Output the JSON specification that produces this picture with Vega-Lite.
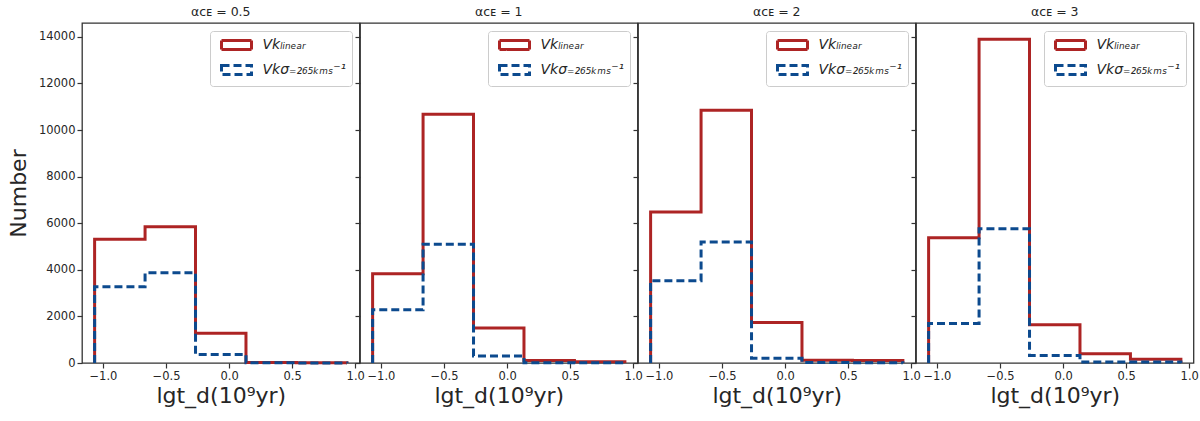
{
  "$schema": "https://vega.github.io/schema/vega-lite/v6.json",
  "padding": {"left": 6, "top": 4, "right": 6, "bottom": 2},
  "bounds": "flush",
  "spacing": 0,
  "config": {
    "font": "DejaVu Sans",
    "view": {"stroke": "#333333", "strokeWidth": 1.3},
    "axis": {"grid": false, "domain": false, "tickColor": "#333333", "tickSize": 5, "tickWidth": 1.2, "labelFontSize": 11.5, "labelColor": "#262626", "titleColor": "#262626", "titleFontWeight": "normal", "labelFlush": false, "labelOverlap": false, "labelBound": false},
    "title": {"fontSize": 12.5, "fontWeight": "normal", "color": "#262626", "offset": 5},
    "legend": {"orient": "top-right", "offset": 8, "padding": 5, "strokeColor": "#cccccc", "fillColor": "white", "cornerRadius": 3, "symbolType": "M-2,-0.6H2V0.6H-2Z", "symbolSize": 225, "symbolStrokeWidth": 3, "symbolFillColor": "transparent", "labelFontSize": 14, "labelFontStyle": "italic", "labelColor": "#262626", "rowPadding": 3, "symbolOffset": 12.5, "labelOffset": 17}
  },
  "datasets": {
    "hist": [
      {"panel": 0.5, "series": "Vkₗᵢₙₑₐᵣ", "i": 0, "x": -1.066, "y": 0},
      {"panel": 0.5, "series": "Vkₗᵢₙₑₐᵣ", "i": 1, "x": -1.066, "y": 5310},
      {"panel": 0.5, "series": "Vkₗᵢₙₑₐᵣ", "i": 2, "x": -0.666, "y": 5850},
      {"panel": 0.5, "series": "Vkₗᵢₙₑₐᵣ", "i": 3, "x": -0.266, "y": 1280},
      {"panel": 0.5, "series": "Vkₗᵢₙₑₐᵣ", "i": 4, "x": 0.134, "y": 20},
      {"panel": 0.5, "series": "Vkₗᵢₙₑₐᵣ", "i": 5, "x": 0.534, "y": 10},
      {"panel": 0.5, "series": "Vkₗᵢₙₑₐᵣ", "i": 6, "x": 0.934, "y": 0},
      {"panel": 0.5, "series": "Vkσ₌₂₆₅ₖₘₛ⁻¹", "i": 0, "x": -1.066, "y": 0},
      {"panel": 0.5, "series": "Vkσ₌₂₆₅ₖₘₛ⁻¹", "i": 1, "x": -1.066, "y": 3270},
      {"panel": 0.5, "series": "Vkσ₌₂₆₅ₖₘₛ⁻¹", "i": 2, "x": -0.666, "y": 3870},
      {"panel": 0.5, "series": "Vkσ₌₂₆₅ₖₘₛ⁻¹", "i": 3, "x": -0.266, "y": 360},
      {"panel": 0.5, "series": "Vkσ₌₂₆₅ₖₘₛ⁻¹", "i": 4, "x": 0.134, "y": 8},
      {"panel": 0.5, "series": "Vkσ₌₂₆₅ₖₘₛ⁻¹", "i": 5, "x": 0.534, "y": 4},
      {"panel": 0.5, "series": "Vkσ₌₂₆₅ₖₘₛ⁻¹", "i": 6, "x": 0.934, "y": 0},
      {"panel": 1, "series": "Vkₗᵢₙₑₐᵣ", "i": 0, "x": -1.066, "y": 0},
      {"panel": 1, "series": "Vkₗᵢₙₑₐᵣ", "i": 1, "x": -1.066, "y": 3830},
      {"panel": 1, "series": "Vkₗᵢₙₑₐᵣ", "i": 2, "x": -0.666, "y": 10680},
      {"panel": 1, "series": "Vkₗᵢₙₑₐᵣ", "i": 3, "x": -0.266, "y": 1500},
      {"panel": 1, "series": "Vkₗᵢₙₑₐᵣ", "i": 4, "x": 0.134, "y": 110},
      {"panel": 1, "series": "Vkₗᵢₙₑₐᵣ", "i": 5, "x": 0.534, "y": 50},
      {"panel": 1, "series": "Vkₗᵢₙₑₐᵣ", "i": 6, "x": 0.934, "y": 0},
      {"panel": 1, "series": "Vkσ₌₂₆₅ₖₘₛ⁻¹", "i": 0, "x": -1.066, "y": 0},
      {"panel": 1, "series": "Vkσ₌₂₆₅ₖₘₛ⁻¹", "i": 1, "x": -1.066, "y": 2290},
      {"panel": 1, "series": "Vkσ₌₂₆₅ₖₘₛ⁻¹", "i": 2, "x": -0.666, "y": 5100},
      {"panel": 1, "series": "Vkσ₌₂₆₅ₖₘₛ⁻¹", "i": 3, "x": -0.266, "y": 300},
      {"panel": 1, "series": "Vkσ₌₂₆₅ₖₘₛ⁻¹", "i": 4, "x": 0.134, "y": 15},
      {"panel": 1, "series": "Vkσ₌₂₆₅ₖₘₛ⁻¹", "i": 5, "x": 0.534, "y": 8},
      {"panel": 1, "series": "Vkσ₌₂₆₅ₖₘₛ⁻¹", "i": 6, "x": 0.934, "y": 0},
      {"panel": 2, "series": "Vkₗᵢₙₑₐᵣ", "i": 0, "x": -1.066, "y": 0},
      {"panel": 2, "series": "Vkₗᵢₙₑₐᵣ", "i": 1, "x": -1.066, "y": 6480},
      {"panel": 2, "series": "Vkₗᵢₙₑₐᵣ", "i": 2, "x": -0.666, "y": 10850},
      {"panel": 2, "series": "Vkₗᵢₙₑₐᵣ", "i": 3, "x": -0.266, "y": 1740},
      {"panel": 2, "series": "Vkₗᵢₙₑₐᵣ", "i": 4, "x": 0.134, "y": 120},
      {"panel": 2, "series": "Vkₗᵢₙₑₐᵣ", "i": 5, "x": 0.534, "y": 110},
      {"panel": 2, "series": "Vkₗᵢₙₑₐᵣ", "i": 6, "x": 0.934, "y": 0},
      {"panel": 2, "series": "Vkσ₌₂₆₅ₖₘₛ⁻¹", "i": 0, "x": -1.066, "y": 0},
      {"panel": 2, "series": "Vkσ₌₂₆₅ₖₘₛ⁻¹", "i": 1, "x": -1.066, "y": 3530},
      {"panel": 2, "series": "Vkσ₌₂₆₅ₖₘₛ⁻¹", "i": 2, "x": -0.666, "y": 5190},
      {"panel": 2, "series": "Vkσ₌₂₆₅ₖₘₛ⁻¹", "i": 3, "x": -0.266, "y": 200},
      {"panel": 2, "series": "Vkσ₌₂₆₅ₖₘₛ⁻¹", "i": 4, "x": 0.134, "y": 20},
      {"panel": 2, "series": "Vkσ₌₂₆₅ₖₘₛ⁻¹", "i": 5, "x": 0.534, "y": 15},
      {"panel": 2, "series": "Vkσ₌₂₆₅ₖₘₛ⁻¹", "i": 6, "x": 0.934, "y": 0},
      {"panel": 3, "series": "Vkₗᵢₙₑₐᵣ", "i": 0, "x": -1.066, "y": 0},
      {"panel": 3, "series": "Vkₗᵢₙₑₐᵣ", "i": 1, "x": -1.066, "y": 5380},
      {"panel": 3, "series": "Vkₗᵢₙₑₐᵣ", "i": 2, "x": -0.666, "y": 13900},
      {"panel": 3, "series": "Vkₗᵢₙₑₐᵣ", "i": 3, "x": -0.266, "y": 1640},
      {"panel": 3, "series": "Vkₗᵢₙₑₐᵣ", "i": 4, "x": 0.134, "y": 400},
      {"panel": 3, "series": "Vkₗᵢₙₑₐᵣ", "i": 5, "x": 0.534, "y": 160},
      {"panel": 3, "series": "Vkₗᵢₙₑₐᵣ", "i": 6, "x": 0.934, "y": 0},
      {"panel": 3, "series": "Vkσ₌₂₆₅ₖₘₛ⁻¹", "i": 0, "x": -1.066, "y": 0},
      {"panel": 3, "series": "Vkσ₌₂₆₅ₖₘₛ⁻¹", "i": 1, "x": -1.066, "y": 1700},
      {"panel": 3, "series": "Vkσ₌₂₆₅ₖₘₛ⁻¹", "i": 2, "x": -0.666, "y": 5760},
      {"panel": 3, "series": "Vkσ₌₂₆₅ₖₘₛ⁻¹", "i": 3, "x": -0.266, "y": 320},
      {"panel": 3, "series": "Vkσ₌₂₆₅ₖₘₛ⁻¹", "i": 4, "x": 0.134, "y": 45},
      {"panel": 3, "series": "Vkσ₌₂₆₅ₖₘₛ⁻¹", "i": 5, "x": 0.534, "y": 40},
      {"panel": 3, "series": "Vkσ₌₂₆₅ₖₘₛ⁻¹", "i": 6, "x": 0.934, "y": 0}
    ]
  },
  "hconcat": [
    {
      "width": 277.5, "height": 340,
      "title": "αᴄᴇ = 0.5",
      "data": {"name": "hist"},
      "transform": [{"filter": "datum.panel == 0.5"}],
      "encoding": {
        "x": {"field": "x", "type": "quantitative", "scale": {"domain": [-1.166, 1.034], "nice": false, "zero": false}, "axis": {"values": [-1, -0.5, 0, 0.5, 1], "labelExpr": "replace(format(datum.value, '.1f'), '-', '−')", "title": "lgt_d(10⁹yr)", "titleFontSize": 22, "titlePadding": 4}},
        "y": {"field": "y", "type": "quantitative", "scale": {"domain": [0, 14595], "nice": false}, "axis": {"values": [0, 2000, 4000, 6000, 8000, 10000, 12000, 14000], "format": "d", "title": "Number", "titleFontSize": 22, "titlePadding": 8}},
        "color": {"field": "series", "type": "nominal", "scale": {"domain": ["Vkₗᵢₙₑₐᵣ", "Vkσ₌₂₆₅ₖₘₛ⁻¹"], "range": ["#ad2424", "#0c4a8e"]}, "legend": {"title": null}},
        "strokeDash": {"field": "series", "type": "nominal", "scale": {"domain": ["Vkₗᵢₙₑₐᵣ", "Vkσ₌₂₆₅ₖₘₛ⁻¹"], "range": [[1, 0], [8, 4]]}, "legend": {"title": null}},
        "order": {"field": "i", "type": "quantitative"}
      },
      "layer": [
        {"transform": [{"filter": "datum.series == 'Vkₗᵢₙₑₐᵣ'"}], "mark": {"type": "line", "interpolate": "step-after", "strokeWidth": 3}},
        {"transform": [{"filter": "datum.series != 'Vkₗᵢₙₑₐᵣ'"}], "mark": {"type": "line", "interpolate": "step-after", "strokeWidth": 3}}
      ]
    },
    {
      "width": 277.5, "height": 340,
      "title": "αᴄᴇ = 1",
      "data": {"name": "hist"},
      "transform": [{"filter": "datum.panel == 1"}],
      "encoding": {
        "x": {"field": "x", "type": "quantitative", "scale": {"domain": [-1.166, 1.034], "nice": false, "zero": false}, "axis": {"values": [-1, -0.5, 0, 0.5, 1], "labelExpr": "replace(format(datum.value, '.1f'), '-', '−')", "title": "lgt_d(10⁹yr)", "titleFontSize": 22, "titlePadding": 4}},
        "y": {"field": "y", "type": "quantitative", "scale": {"domain": [0, 14595], "nice": false}, "axis": {"values": [0, 2000, 4000, 6000, 8000, 10000, 12000, 14000], "labels": false, "title": null}},
        "color": {"field": "series", "type": "nominal", "scale": {"domain": ["Vkₗᵢₙₑₐᵣ", "Vkσ₌₂₆₅ₖₘₛ⁻¹"], "range": ["#ad2424", "#0c4a8e"]}, "legend": {"title": null}},
        "strokeDash": {"field": "series", "type": "nominal", "scale": {"domain": ["Vkₗᵢₙₑₐᵣ", "Vkσ₌₂₆₅ₖₘₛ⁻¹"], "range": [[1, 0], [8, 4]]}, "legend": {"title": null}},
        "order": {"field": "i", "type": "quantitative"}
      },
      "layer": [
        {"transform": [{"filter": "datum.series == 'Vkₗᵢₙₑₐᵣ'"}], "mark": {"type": "line", "interpolate": "step-after", "strokeWidth": 3}},
        {"transform": [{"filter": "datum.series != 'Vkₗᵢₙₑₐᵣ'"}], "mark": {"type": "line", "interpolate": "step-after", "strokeWidth": 3}}
      ]
    },
    {
      "width": 277.5, "height": 340,
      "title": "αᴄᴇ = 2",
      "data": {"name": "hist"},
      "transform": [{"filter": "datum.panel == 2"}],
      "encoding": {
        "x": {"field": "x", "type": "quantitative", "scale": {"domain": [-1.166, 1.034], "nice": false, "zero": false}, "axis": {"values": [-1, -0.5, 0, 0.5, 1], "labelExpr": "replace(format(datum.value, '.1f'), '-', '−')", "title": "lgt_d(10⁹yr)", "titleFontSize": 22, "titlePadding": 4}},
        "y": {"field": "y", "type": "quantitative", "scale": {"domain": [0, 14595], "nice": false}, "axis": {"values": [0, 2000, 4000, 6000, 8000, 10000, 12000, 14000], "labels": false, "title": null}},
        "color": {"field": "series", "type": "nominal", "scale": {"domain": ["Vkₗᵢₙₑₐᵣ", "Vkσ₌₂₆₅ₖₘₛ⁻¹"], "range": ["#ad2424", "#0c4a8e"]}, "legend": {"title": null}},
        "strokeDash": {"field": "series", "type": "nominal", "scale": {"domain": ["Vkₗᵢₙₑₐᵣ", "Vkσ₌₂₆₅ₖₘₛ⁻¹"], "range": [[1, 0], [8, 4]]}, "legend": {"title": null}},
        "order": {"field": "i", "type": "quantitative"}
      },
      "layer": [
        {"transform": [{"filter": "datum.series == 'Vkₗᵢₙₑₐᵣ'"}], "mark": {"type": "line", "interpolate": "step-after", "strokeWidth": 3}},
        {"transform": [{"filter": "datum.series != 'Vkₗᵢₙₑₐᵣ'"}], "mark": {"type": "line", "interpolate": "step-after", "strokeWidth": 3}}
      ]
    },
    {
      "width": 277.5, "height": 340,
      "title": "αᴄᴇ = 3",
      "data": {"name": "hist"},
      "transform": [{"filter": "datum.panel == 3"}],
      "encoding": {
        "x": {"field": "x", "type": "quantitative", "scale": {"domain": [-1.166, 1.034], "nice": false, "zero": false}, "axis": {"values": [-1, -0.5, 0, 0.5, 1], "labelExpr": "replace(format(datum.value, '.1f'), '-', '−')", "title": "lgt_d(10⁹yr)", "titleFontSize": 22, "titlePadding": 4}},
        "y": {"field": "y", "type": "quantitative", "scale": {"domain": [0, 14595], "nice": false}, "axis": {"values": [0, 2000, 4000, 6000, 8000, 10000, 12000, 14000], "labels": false, "title": null}},
        "color": {"field": "series", "type": "nominal", "scale": {"domain": ["Vkₗᵢₙₑₐᵣ", "Vkσ₌₂₆₅ₖₘₛ⁻¹"], "range": ["#ad2424", "#0c4a8e"]}, "legend": {"title": null}},
        "strokeDash": {"field": "series", "type": "nominal", "scale": {"domain": ["Vkₗᵢₙₑₐᵣ", "Vkσ₌₂₆₅ₖₘₛ⁻¹"], "range": [[1, 0], [8, 4]]}, "legend": {"title": null}},
        "order": {"field": "i", "type": "quantitative"}
      },
      "layer": [
        {"transform": [{"filter": "datum.series == 'Vkₗᵢₙₑₐᵣ'"}], "mark": {"type": "line", "interpolate": "step-after", "strokeWidth": 3}},
        {"transform": [{"filter": "datum.series != 'Vkₗᵢₙₑₐᵣ'"}], "mark": {"type": "line", "interpolate": "step-after", "strokeWidth": 3}}
      ]
    }
  ],
  "resolve": {"scale": {"color": "independent", "strokeDash": "independent"}, "legend": {"color": "independent", "strokeDash": "independent"}}
}
